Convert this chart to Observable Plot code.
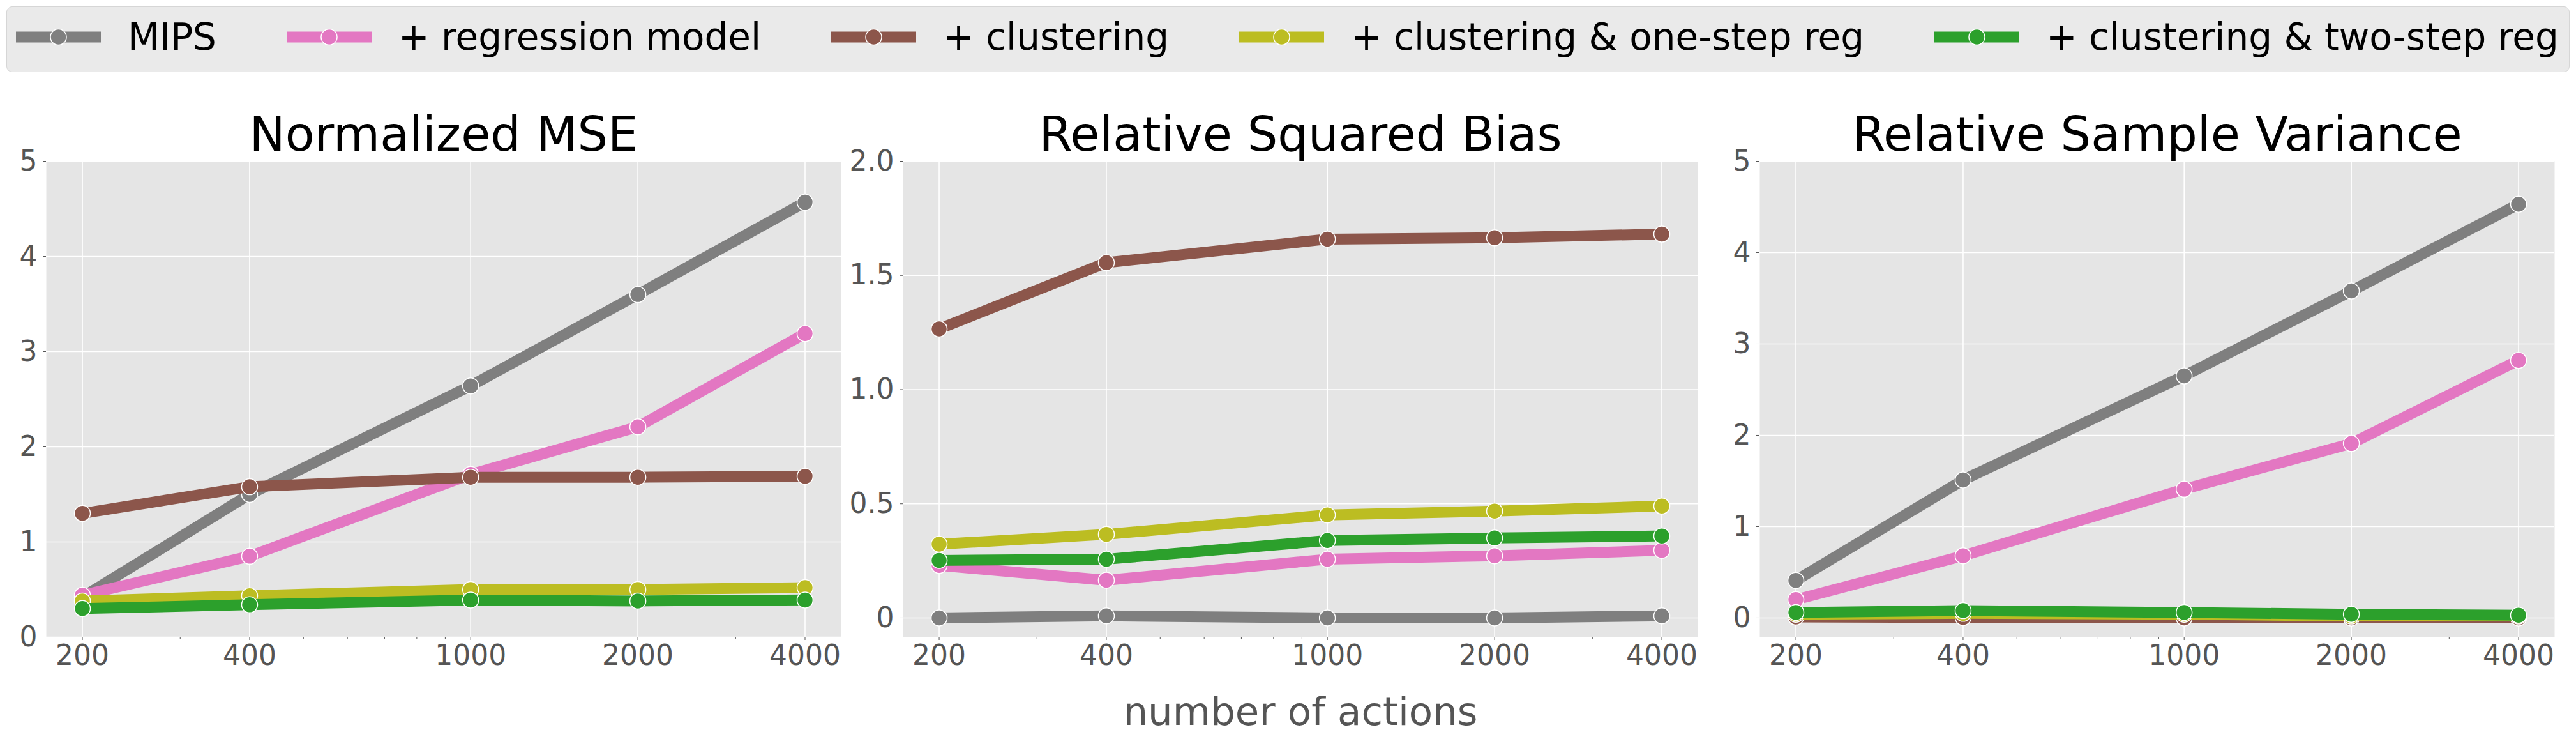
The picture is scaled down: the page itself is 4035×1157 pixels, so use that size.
<!DOCTYPE html>
<html><head><meta charset="utf-8">
<script src="https://cdn.jsdelivr.net/npm/d3@7"></script>
<script src="https://cdn.jsdelivr.net/npm/@observablehq/plot@0.6"></script>
<style>
html,body{margin:0;padding:0;background:#fff;width:4035px;height:1157px;overflow:hidden;font-family:"DejaVu Sans";}
#legend{position:absolute;left:10px;top:10px;width:4015px;height:103px;box-sizing:border-box;background:#EAEAEA;border:1.5px solid #D6D6D6;border-radius:9px;display:flex;align-items:center;padding-left:14px;padding-bottom:7px;}
.entry{display:flex;align-items:center;margin-right:110px;}
.entry span{font-size:58px;line-height:1;color:#000;margin-left:42px;white-space:nowrap;}
.panel{position:absolute;top:140px;}
#xlabel{position:absolute;left:2037px;top:1083px;transform:translateX(-50%);font-size:61px;line-height:1;color:#555;white-space:nowrap;}
</style></head><body>
<div id="legend"></div>
<div id="p0" class="panel" style="left:2px"></div>
<div id="p1" class="panel" style="left:1344px"></div>
<div id="p2" class="panel" style="left:2686px"></div>
<div id="xlabel">number of actions</div>
<script>
const actions = [200, 400, 1000, 2000, 4000];
const minorActions = [300, 500, 600, 700, 800, 900, 3000];
const methods = ["MIPS", "+ regression model", "+ clustering", "+ clustering & one-step reg", "+ clustering & two-step reg"];
const methodColors = ["#7f7f7f", "#e377c2", "#8c564b", "#bcbd22", "#2ca02c"];
const panelTitles = ["Normalized MSE", "Relative Squared Bias", "Relative Sample Variance"];

// values per method (rows in methods order), columns in actions order
const mseValues = [
  [0.42, 1.50, 2.64, 3.60, 4.57],
  [0.44, 0.85, 1.71, 2.21, 3.19],
  [1.30, 1.58, 1.68, 1.68, 1.69],
  [0.38, 0.435, 0.50, 0.50, 0.52],
  [0.30, 0.34, 0.39, 0.38, 0.39]
];
const biasValues = [
  [0.0, 0.009, 0.0, 0.0, 0.009],
  [0.23, 0.165, 0.257, 0.272, 0.296],
  [1.266, 1.556, 1.659, 1.665, 1.681],
  [0.323, 0.366, 0.451, 0.468, 0.49],
  [0.252, 0.257, 0.339, 0.35, 0.359]
];
const varianceValues = [
  [0.41, 1.51, 2.65, 3.58, 4.53],
  [0.20, 0.68, 1.41, 1.91, 2.82],
  [0.01, 0.005, 0.0, 0.0, 0.0],
  [0.04, 0.05, 0.04, 0.02, 0.02],
  [0.06, 0.08, 0.06, 0.04, 0.03]
];
const yTicksA = [0, 1, 2, 3, 4, 5];
const yTicksB = [0, 0.5, 1.0, 1.5, 2.0];

// legend
const legend = d3.select("#legend");
methods.forEach((m, i) => {
  const e = legend.append("div").attr("class", "entry");
  const s = e.append("svg").attr("width", 133).attr("height", 28);
  s.append("line").attr("x1", 0).attr("x2", 133).attr("y1", 14).attr("y2", 14)
    .attr("stroke", methodColors[i]).attr("stroke-width", 17);
  s.append("circle").attr("cx", 66.5).attr("cy", 14).attr("r", 12.5)
    .attr("fill", methodColors[i]).attr("stroke", "#fff").attr("stroke-width", 1.5);
  e.append("span").text(m);
});

function panel(title, values, yDomain, yTicks, yFormat) {
  const rows = [];
  methods.forEach((m, i) => actions.forEach((a, j) => rows.push({method: m, actions: a, value: values[i][j]})));
  const marks = [
    Plot.frame({fill: "#E5E5E5", stroke: null}),
    Plot.gridY(yTicks, {stroke: "#fff", strokeOpacity: 1, strokeWidth: 1.6}),
    Plot.gridX(actions, {stroke: "#fff", strokeOpacity: 1, strokeWidth: 1.6}),
    Plot.axisX(minorActions, {tickSize: 3, tickFormat: () => "", stroke: "#555", label: null}),
    Plot.axisX(actions, {tickSize: 5, tickPadding: 7, fontSize: 44, fill: "#555", stroke: "#555", tickFormat: d => String(d), label: null}),
    Plot.axisY(yTicks, {tickSize: 5, tickPadding: 9, fontSize: 44, fill: "#555", stroke: "#555", tickFormat: yFormat, label: null})
  ];
  methods.forEach(m => {
    const d = rows.filter(r => r.method === m);
    marks.push(Plot.line(d, {x: "actions", y: "value", stroke: "method", strokeWidth: 17, strokeLinecap: "square", strokeLinejoin: "round"}));
    marks.push(Plot.dot(d, {x: "actions", y: "value", fill: "method", stroke: "#fff", strokeWidth: 1.5, r: 12.5}));
  });
  marks.push(Plot.text([title], {frameAnchor: "top", lineAnchor: "top", dy: -70, fontSize: 75, fill: "#000", text: d => d}));
  return Plot.plot({
    width: 1342, height: 917,
    marginLeft: 70, marginRight: 27, marginTop: 112, marginBottom: 60,
    style: {fontFamily: "DejaVu Sans", background: "transparent", overflow: "visible"},
    x: {type: "log", domain: [172.2, 4645], label: null},
    y: {domain: yDomain, label: null},
    color: {domain: methods, range: methodColors},
    marks
  });
}

const fmtInt = d => String(d);
const fmtB = d => d === 0 ? "0" : d.toFixed(1);
document.getElementById("p0").append(panel(panelTitles[0], mseValues, [0, 5], yTicksA, fmtInt));
document.getElementById("p1").append(panel(panelTitles[1], biasValues, [-0.084, 2.0], yTicksB, fmtB));
document.getElementById("p2").append(panel(panelTitles[2], varianceValues, [-0.21, 5], yTicksA, fmtInt));
</script>
</body></html>
